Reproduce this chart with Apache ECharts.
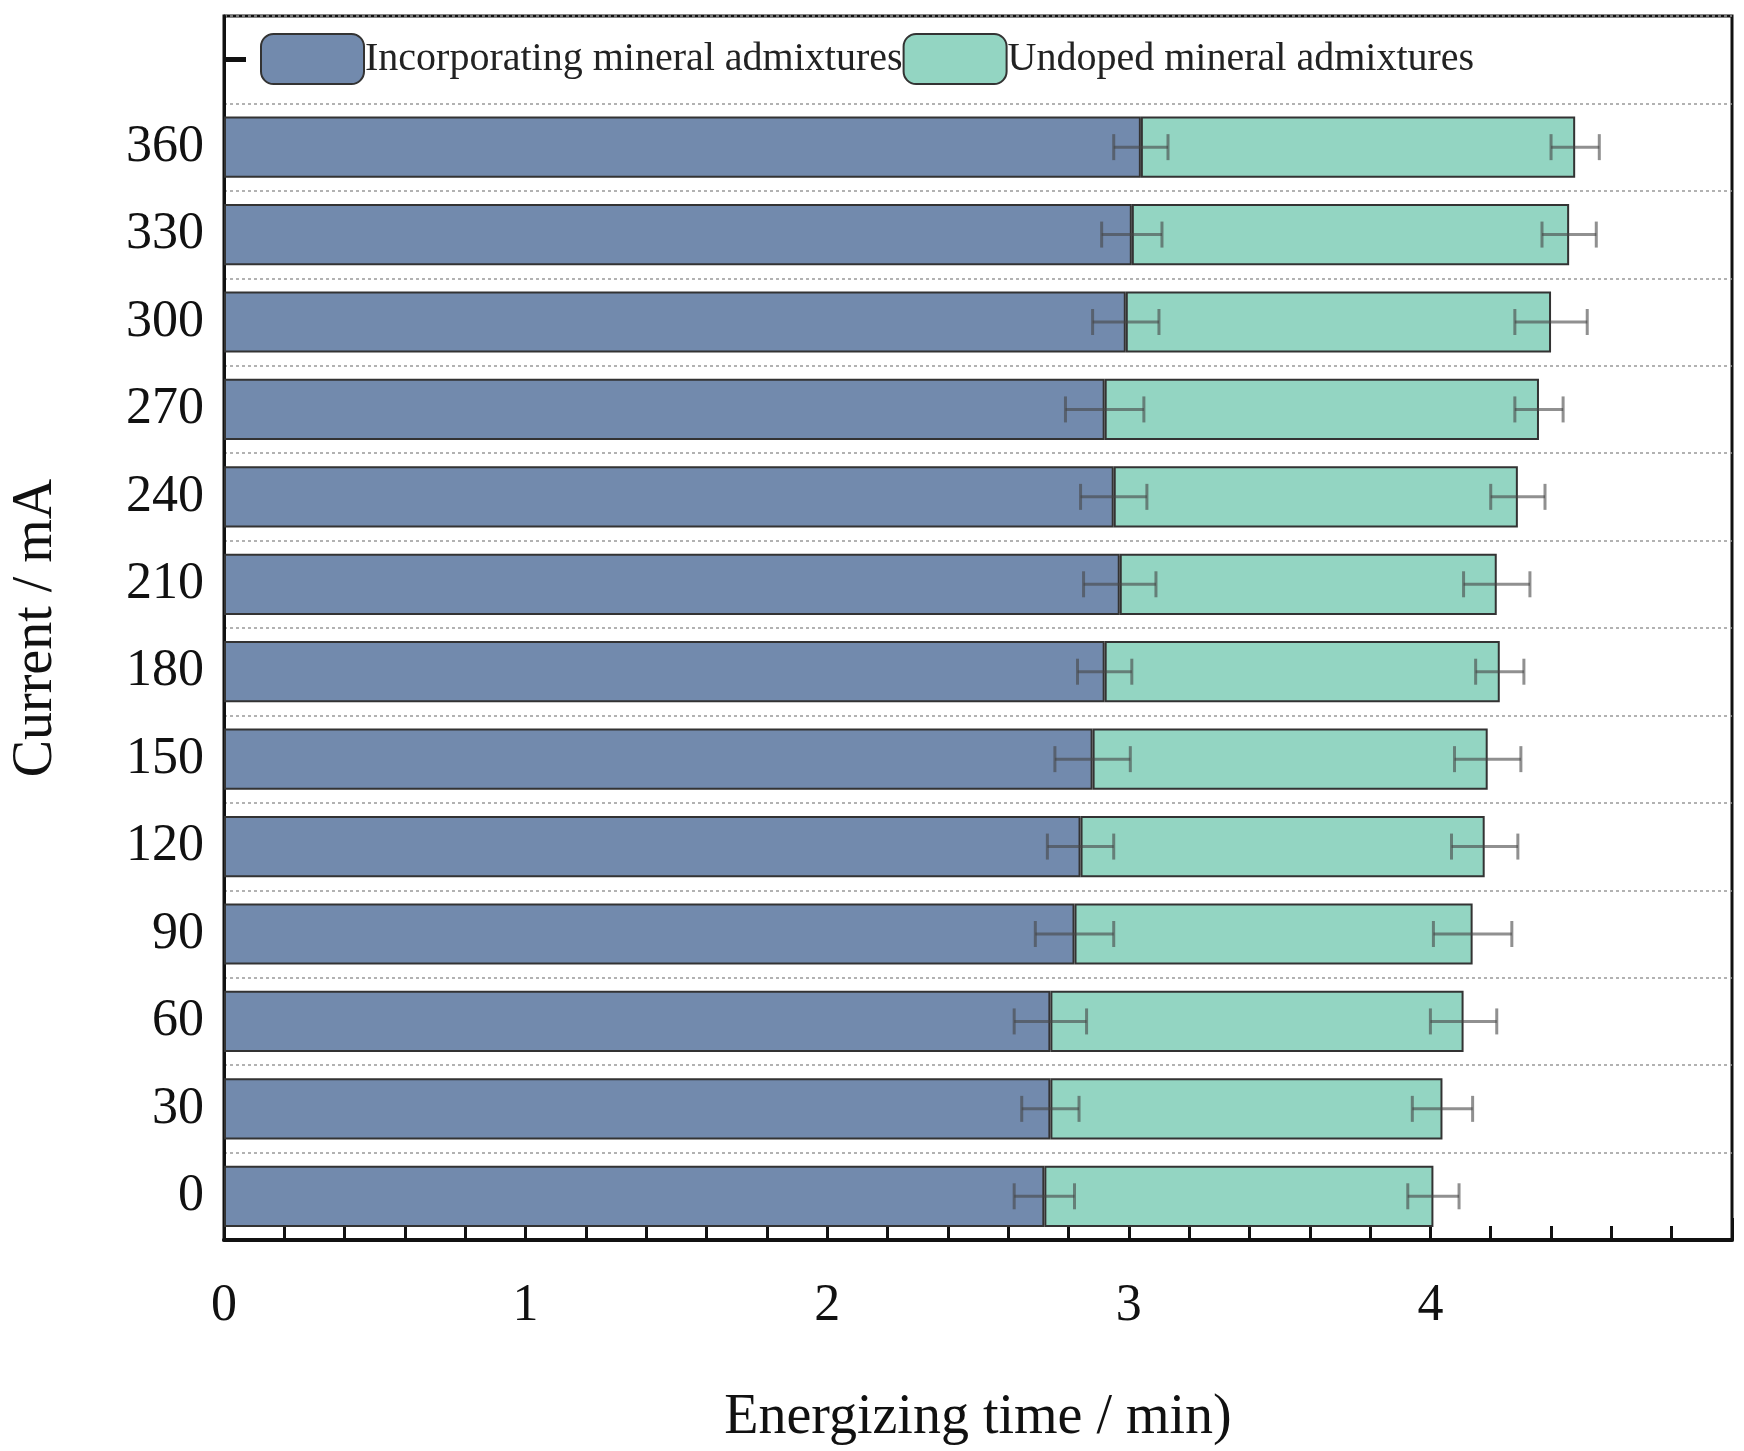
<!DOCTYPE html><html><head><meta charset="utf-8"><script src="https://cdn.jsdelivr.net/npm/echarts@6/dist/echarts.min.js"></script>
<style>body{margin:0}#c{width:1744px;height:1451px}</style></head><body><div id="c"></div><script>
const categories=['0','30','60','90','120','150','180','210','240','270','300','330','360',''];
const incorporating=[2.72,2.74,2.74,2.82,2.84,2.88,2.92,2.97,2.95,2.92,2.99,3.01,3.04];
const undopedTotal=[4.01,4.04,4.11,4.14,4.18,4.19,4.23,4.22,4.29,4.36,4.40,4.46,4.48];
const incErr=[0.10,0.095,0.12,0.13,0.11,0.125,0.09,0.12,0.11,0.13,0.11,0.10,0.09];
const undErr=[0.085,0.10,0.11,0.13,0.11,0.11,0.08,0.11,0.09,0.08,0.12,0.09,0.08];
const F='Liberation Serif';
const undopedPart=undopedTotal.map((v,i)=>+(v-incorporating[i]).toFixed(3));
function errSeries(vals,errs){
 return {type:'custom',z:10,silent:true,data:vals.map((v,i)=>[v,i,errs[i]]),
  renderItem:(p,api)=>{const v=api.value(0),y=api.value(1),e=api.value(2);
   const a=api.coord([v-e,y]),b=api.coord([v+e,y]);const h=13;
   const st={stroke:'rgba(70,70,70,0.6)',lineWidth:3};
   return {type:'group',children:[
    {type:'line',shape:{x1:a[0],y1:a[1],x2:b[0],y2:b[1]},style:st},
    {type:'line',shape:{x1:a[0],y1:a[1]-h,x2:a[0],y2:a[1]+h},style:st},
    {type:'line',shape:{x1:b[0],y1:b[1]-h,x2:b[0],y2:b[1]+h},style:st}]};}};
}
const chart=echarts.init(document.getElementById('c'));
chart.setOption({animation:false,
 grid:{left:210,right:12,top:16,bottom:208,show:true,borderColor:'#111',borderWidth:3},
 legend:{top:28,left:255,itemWidth:103,itemHeight:50,itemGap:0,
  textStyle:{fontFamily:F,fontSize:40,color:'#222',padding:[0,0,0,-4]},
  data:['Incorporating mineral admixtures','Undoped mineral admixtures']},
 xAxis:{type:'value',min:0,max:5,interval:1,
  name:'Energizing time / min)',nameLocation:'middle',nameGap:150,
  nameTextStyle:{fontFamily:F,fontSize:56,color:'#111'},
  axisLine:{show:true,lineStyle:{color:'#111',width:4}},
  axisTick:{show:true,inside:true,length:22,lineStyle:{color:'#111',width:3}},
  minorTick:{show:true,splitNumber:5,length:14,lineStyle:{color:'#111',width:3}},
  splitLine:{show:false},
  axisLabel:{fontFamily:F,fontSize:52,color:'#111',margin:40,formatter:v=>v===5?'':String(v)}},
 yAxis:{type:'category',data:categories,
  name:'Current / mA',nameLocation:'middle',nameGap:160,
  nameTextStyle:{fontFamily:F,fontSize:56,color:'#111'},
  axisLine:{show:true,lineStyle:{color:'#111',width:3}},
  axisTick:{show:true,inside:true,alignWithLabel:true,length:22,lineStyle:{color:'#111',width:5}},
  splitLine:{show:true,lineStyle:{color:'#999',type:[3,3],width:1.5}},
  axisLabel:{fontFamily:F,fontSize:52,color:'#111',margin:20}},
 series:[
  {name:'Incorporating mineral admixtures',type:'bar',stack:'s',barWidth:'70%',data:incorporating,
   itemStyle:{color:'#728aad',borderColor:'#333',borderWidth:2}},
  {name:'Undoped mineral admixtures',type:'bar',stack:'s',data:undopedPart,
   itemStyle:{color:'#93d5c2',borderColor:'#333',borderWidth:2}},
  errSeries(incorporating,incErr),errSeries(undopedTotal,undErr)]});
</script></body></html>
